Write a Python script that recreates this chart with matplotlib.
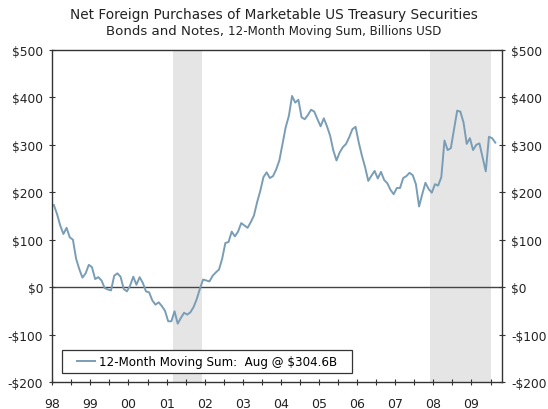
import matplotlib
matplotlib.use("Agg")
import matplotlib.pyplot as plt
from matplotlib.patches import Rectangle
import numpy as np

# 12-month moving sum of net foreign purchases, Jan 1998 - Aug 2009 (billions USD)
start_year = 1998
moving_sum = [
    173, 154, 130, 112, 125, 105, 100, 60, 38, 20,
    29, 47, 42, 17, 21, 14, -2, -5, -7, 24,
    29, 22, -4, -9, 3, 22, 5, 21, 9, -9,
    -11, -28, -37, -32, -40, -50, -72, -72, -51, -77,
    -65, -54, -58, -53, -42, -25, -3, 16, 14, 12,
    24, 31, 37, 60, 93, 95, 117, 107, 117, 135,
    130, 125, 137, 151, 179, 203, 232, 242, 230, 234,
    248, 267, 302, 337, 361, 403, 389, 395, 358, 354,
    363, 374, 370, 354, 339, 356, 339, 319, 288, 267,
    284, 295, 302, 316, 333, 338, 305, 277, 253, 224,
    235, 245, 229, 243, 226, 219, 205, 196, 209, 209,
    230, 234, 241, 236, 217, 170, 196, 220, 207, 199,
    217, 214, 232, 309, 289, 293, 333, 372, 370, 347,
    302, 314, 289, 300, 303, 274, 244, 317, 314, 304.6,
]

# recessions (decimal years)
recessions = [(2001 + 2 / 12, 2001 + 11 / 12), (2007 + 11 / 12, 2009 + 6 / 12)]

years = list(range(1998, 2010))
year_labels = ["98", "99", "00", "01", "02", "03", "04", "05", "06", "07", "08", "09"]
y_ticks = [-200, -100, 0, 100, 200, 300, 400, 500]

# plot each month at its mid point
months = np.arange(len(moving_sum))
dates = start_year + (months + 0.5) / 12

fig = plt.figure(figsize=(5.48, 4.10), dpi=100)
ax = fig.add_axes([0.0954, 0.0659, 0.8206, 0.8098])

for r0, r1 in recessions:
    ax.axvspan(r0, r1, color="#e5e5e5", lw=0, zorder=0)

ax.axhline(0, color="#444444", lw=1.0, zorder=1)
ax.plot(dates, moving_sum, color="#7a9db6", lw=1.4, zorder=2,
        label="12-Month Moving Sum:  Aug @ $304.6B")

ax.set_xlim(1998, 2009.8)
ax.set_ylim(-200, 500)
ax.set_xticks(years)
ax.set_xticklabels(year_labels)
ax.set_xticks([y + 0.5 for y in years], minor=True)
ax.set_yticks(y_ticks)
ax.set_yticklabels([("-$%d" % -v) if v < 0 else ("$%d" % v) for v in y_ticks])

ax.tick_params(axis="x", which="both", direction="inout", length=5, width=0.8,
               color="#333333", labelsize=9, pad=8, labelcolor="#222222")
ax.tick_params(axis="y", direction="inout", length=5, width=0.8, color="#333333",
               labelsize=8.8, pad=4, right=True, labelright=True, labelcolor="#222222")

for sp in ax.spines.values():
    sp.set_color("#333333")
    sp.set_linewidth(1.0)

# legend box drawn separately, legend entry centred in it
box = Rectangle((0.0216, 0.027), 0.645, 0.068, transform=ax.transAxes,
                facecolor="white", edgecolor="#333333", lw=0.9, zorder=4)
ax.add_patch(box)
leg = ax.legend(loc="center", bbox_to_anchor=(0.0216 + 0.645 / 2, 0.027 + 0.068 / 2),
                frameon=False, fontsize=8.6, handlelength=1.5, handletextpad=0.3,
                borderpad=0, borderaxespad=0)
leg.set_zorder(5)

fig.text(0.5, 0.963, "Net Foreign Purchases of Marketable US Treasury Securities",
         ha="center", va="center", fontsize=9.8, color="#222222")

# second title line: two font sizes, centred as a whole
t1 = fig.text(0, 0.922, "Bonds and Notes, ", ha="left", va="center", fontsize=9.6,
              color="#222222")
t2 = fig.text(0, 0.922, "12-Month Moving Sum, Billions USD", ha="left", va="center",
              fontsize=8.6, color="#222222")
r = fig.canvas.get_renderer()
w1 = t1.get_window_extent(r).width
w2 = t2.get_window_extent(r).width
W = fig.bbox.width
x0 = (W - w1 - w2) / 2
t1.set_x(x0 / W)
t2.set_x((x0 + w1) / W)

fig.savefig("out.png", dpi=100)
